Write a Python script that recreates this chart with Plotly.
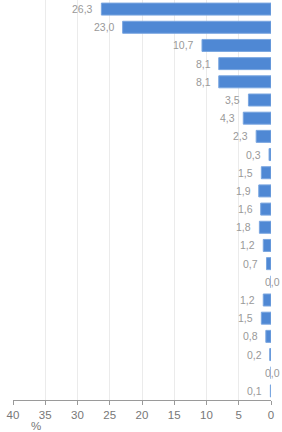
import plotly.graph_objects as go

categories = [f"c{i}" for i in range(1, 23)]
values = [26.3, 23.0, 10.7, 8.1, 8.1, 3.5, 4.3, 2.3, 0.3, 1.5, 1.9, 1.6, 1.8, 1.2, 0.7, 0.0, 1.2, 1.5, 0.8, 0.2, 0.0, 0.1]
tick_vals = [40, 35, 30, 25, 20, 15, 10, 5, 0]
axis_title = "%"

FONT = "Liberation Sans, Arial"

fig = go.Figure(go.Bar(
    x=values, y=categories, orientation="h",
    marker=dict(color="#4f88d4", line=dict(color="#7aa6e0", width=1)),
    hoverinfo="x",
))

annotations = []
for cat, v in zip(categories, values):
    label = f"{v:.1f}".replace(".", ",")
    if v == 0:
        annotations.append(dict(x=v, y=cat, xref="x", yref="y", text=label, showarrow=False,
                                xanchor="center", xshift=1,
                                font=dict(size=10.5, color="#999", family=FONT)))
    else:
        annotations.append(dict(x=v, y=cat, xref="x", yref="y", text=label, showarrow=False,
                                xanchor="right", xshift=-6,
                                font=dict(size=10.5, color="#999", family=FONT)))
annotations.append(dict(text=axis_title, x=36.4, xref="x", y=0, yref="paper", yshift=-26,
                        yanchor="middle", showarrow=False, font=dict(size=11.5, color="#777", family=FONT)))

fig.update_layout(
    width=282, height=432,
    margin=dict(l=13, r=11, t=0, b=32),
    paper_bgcolor="white", plot_bgcolor="white",
    separators=",.",
    bargap=0.34,
    showlegend=False,
    font=dict(family=FONT, color="#777"),
    xaxis=dict(
        range=[40, 0], tickvals=tick_vals, showgrid=True, gridcolor="#ebebeb", gridwidth=1,
        zeroline=False, showline=True, linecolor="#9a9a9a", linewidth=1,
        ticks="outside", ticklen=4, tickcolor="#9a9a9a",
        tickfont=dict(size=11.5, color="#777"),
    ),
    yaxis=dict(
        categoryorder="array", categoryarray=categories,
        showticklabels=False, showgrid=False, zeroline=False, showline=False,
        range=[21.5, -0.5],
    ),
    annotations=annotations,
)
fig.write_html("out.html")
